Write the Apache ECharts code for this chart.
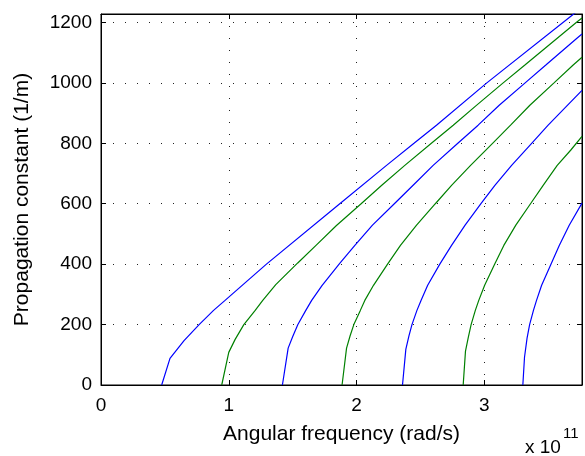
<!DOCTYPE html>
<html>
<head>
<meta charset="utf-8">
<script src="https://cdn.jsdelivr.net/npm/echarts@6/dist/echarts.min.js"></script>
<style>
  html, body { margin: 0; padding: 0; background: #fff; }
  #chart { width: 585px; height: 456px; }
</style>
</head>
<body>
<div id="chart"></div>
<script>
// x values in units of 1e11 rad/s, y in 1/m
var xTicks = [0, 1, 2, 3];
var yTicks = [0, 200, 400, 600, 800, 1000, 1200];

var mode1 = [[0.475, 0], [0.54, 88], [0.65, 147], [0.768, 200], [0.881, 247], [0.971, 280], [1.295, 400],
  [1.869, 600], [2.235, 727], [2.45, 800], [2.626, 860], [3.02, 1000], [3.70, 1228], [3.765, 1250]];
var mode2 = [[0.945, 0], [1.0, 108], [1.05, 151], [1.118, 200], [1.207, 247], [1.266, 280], [1.368, 332],
  [1.54, 404], [1.687, 464], [1.843, 528], [2.036, 600], [2.2, 662], [2.378, 727], [2.586, 800],
  [2.757, 860], [2.934, 924], [3.148, 1000], [3.318, 1059], [3.72, 1200], [3.765, 1215]];
var mode3 = [[1.42, 0], [1.465, 122], [1.5, 160], [1.541, 200], [1.603, 247], [1.649, 280], [1.731, 330],
  [1.867, 402], [1.987, 462], [2.125, 529], [2.296, 600], [2.443, 661], [2.6, 727], [2.793, 800],
  [2.952, 860], [3.117, 926], [3.32, 1000], [3.482, 1059], [3.723, 1147], [3.765, 1162]];
var mode4 = [[1.887, 0], [1.922, 122], [1.95, 163], [1.979, 200], [2.03, 247], [2.065, 280], [2.133, 330],
  [2.243, 400], [2.344, 462], [2.47, 529], [2.617, 600], [2.744, 661], [2.893, 727], [3.065, 800],
  [3.206, 860], [3.357, 926], [3.546, 1000], [3.696, 1059], [3.765, 1085]];
var mode5 = [[2.36, 0], [2.386, 118], [2.41, 162], [2.434, 200], [2.473, 247], [2.505, 280], [2.557, 330],
  [2.652, 400], [2.744, 462], [2.85, 529], [2.974, 600], [3.083, 661], [3.214, 727], [3.371, 800],
  [3.5, 860], [3.765, 975]];
var mode6 = [[2.835, 0], [2.853, 112], [2.875, 158], [2.897, 200], [2.93, 247], [2.957, 280], [3.003, 330],
  [3.081, 400], [3.153, 462], [3.247, 529], [3.362, 600], [3.461, 661], [3.571, 727], [3.676, 777],
  [3.765, 823]];
var mode7 = [[3.302, 0], [3.315, 92], [3.335, 155], [3.355, 200], [3.385, 247], [3.409, 280], [3.449, 330],
  [3.522, 400], [3.587, 462], [3.665, 529], [3.765, 602]];

var modes = [mode1, mode2, mode3, mode4, mode5, mode6, mode7];
var colors = ['#0000ff', '#008000'];

var font = 'Liberation Sans, Arial, Helvetica, sans-serif';
var chart = echarts.init(document.getElementById('chart'));

var series = modes.map(function (d, i) {
  return {
    type: 'line',
    data: d,
    showSymbol: false,
    symbol: 'none',
    clip: true,
    lineStyle: { color: colors[i % 2], width: 1.2 },
    z: 3
  };
});

var option = {
  animation: false,
  backgroundColor: '#fff',
  grid: { left: 101, right: 3, top: 14, bottom: 71, show: true, borderColor: '#000', borderWidth: 1 },
  xAxis: [
    {
      type: 'value', min: 0, max: 3.765, interval: 1,
      name: 'Angular frequency (rad/s)', nameLocation: 'middle', nameGap: 39,
      nameTextStyle: { fontFamily: font, fontSize: 21, color: '#000' },
      axisLine: { onZero: false, lineStyle: { color: '#000', width: 1 } },
      axisTick: { inside: true, length: 5, lineStyle: { color: '#000' } },
      axisLabel: {
        fontFamily: font, fontSize: 19, color: '#000', margin: 11, showMaxLabel: false,
        formatter: function (v) { return xTicks.indexOf(v) >= 0 ? String(v) : ''; }
      },
      splitLine: { show: true, lineStyle: { color: '#222', type: [1, 11], width: 1 } }
    },
    {
      type: 'value', min: 0, max: 3.765, interval: 1, position: 'top',
      axisLine: { onZero: false, lineStyle: { color: '#000', width: 1 } },
      axisTick: { inside: true, length: 5, lineStyle: { color: '#000' } },
      axisLabel: { show: false },
      splitLine: { show: false }
    }
  ],
  yAxis: [
    {
      type: 'value', min: 0, max: 1228, interval: 200,
      name: 'Propagation constant (1/m)', nameLocation: 'middle', nameGap: 68,
      nameTextStyle: { fontFamily: font, fontSize: 21, color: '#000' },
      axisLine: { show: true, onZero: false, lineStyle: { color: '#000', width: 1 } },
      axisTick: { show: true, inside: true, length: 5, lineStyle: { color: '#000' } },
      axisLabel: {
        fontFamily: font, fontSize: 19, color: '#000', margin: 9, showMaxLabel: false,
        formatter: function (v) { return yTicks.indexOf(v) >= 0 ? String(v) : ''; }
      },
      splitLine: { show: true, lineStyle: { color: '#222', type: [1, 11], width: 1 } }
    },
    {
      type: 'value', min: 0, max: 1228, interval: 200, position: 'right',
      axisLine: { show: true, onZero: false, lineStyle: { color: '#000', width: 1 } },
      axisTick: { show: true, inside: true, length: 5, lineStyle: { color: '#000' } },
      axisLabel: { show: false },
      splitLine: { show: false }
    }
  ],
  graphic: [
    { type: 'text', left: 525, top: 438,
      style: { text: 'x 10', fontFamily: font, fontSize: 19, fill: '#000' } },
    { type: 'text', left: 563, top: 426,
      style: { text: '11', fontFamily: font, fontSize: 15, fill: '#000' } }
  ],
  series: series
};

chart.setOption(option);
</script>
</body>
</html>
